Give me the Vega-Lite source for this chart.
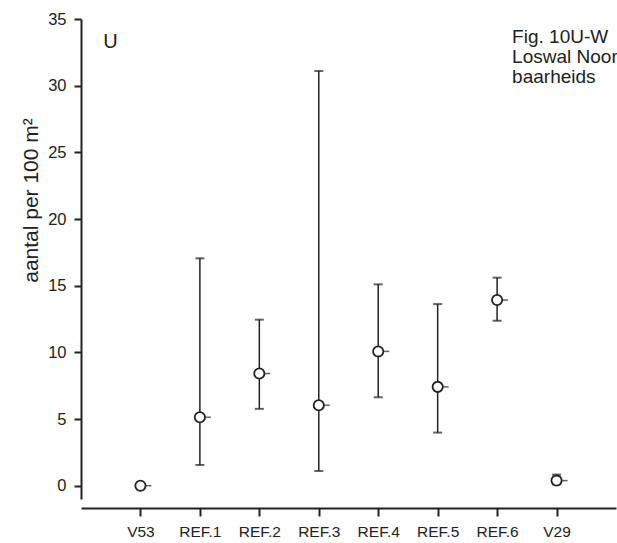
{
  "$schema": "https://vega.github.io/schema/vega-lite/v6.json",
  "autosize": "none",
  "padding": {"left": 81, "top": 19, "right": 1, "bottom": 44},
  "width": 535,
  "height": 480,
  "background": "white",
  "config": {
    "view": {"stroke": null},
    "font": "Liberation Sans"
  },
  "data": {
    "values": [
      {"site": "V53", "mean": 0, "lower": null, "upper": null},
      {"site": "REF.1", "mean": 5.13, "lower": 1.55, "upper": 17.05},
      {"site": "REF.2", "mean": 8.41, "lower": 5.76, "upper": 12.45},
      {"site": "REF.3", "mean": 6.03, "lower": 1.1, "upper": 31.1},
      {"site": "REF.4", "mean": 10.07, "lower": 6.63, "upper": 15.1},
      {"site": "REF.5", "mean": 7.41, "lower": 3.98, "upper": 13.62},
      {"site": "REF.6", "mean": 13.92, "lower": 12.37, "upper": 15.6},
      {"site": "V29", "mean": 0.38, "lower": 0.1, "upper": 0.83}
    ]
  },
  "encoding": {
    "x": {
      "field": "site",
      "type": "nominal",
      "scale": {"type": "point", "padding": 1, "domain": ["V53", "REF.1", "REF.2", "REF.3", "REF.4", "REF.5", "REF.6", "V29"]},
      "axis": {
        "title": null,
        "offset": 9,
        "labelAngle": 0,
        "labelFontSize": 15.5,
        "labelColor": "#222",
        "labelPadding": 8,
        "tickSize": 8,
        "tickWidth": 2,
        "tickColor": "#222",
        "domainColor": "#222",
        "domainWidth": 2,
        "grid": false
      }
    }
  },
  "layer": [
    {
      "mark": {"type": "rule", "color": "#222", "strokeWidth": 1.5},
      "encoding": {
        "y": {
          "field": "lower",
          "type": "quantitative",
          "title": "aantal per 100 m²",
          "scale": {"domain": [-1, 35], "nice": false, "zero": false},
          "axis": {
            "values": [0, 2.5, 5, 7.5, 10, 12.5, 15, 17.5, 20, 22.5, 25, 27.5, 30, 32.5, 35],
            "labelExpr": "datum.value % 5 === 0 ? datum.label : ''",
            "tickSize": {"condition": {"test": "datum.value % 5 !== 0", "value": 4}, "value": 7},
            "tickWidth": 2,
            "tickColor": "#222",
            "domainColor": "#222",
            "domainWidth": 2,
            "labelFontSize": 16.5,
            "labelColor": "#222",
            "labelPadding": 8,
            "grid": false,
            "titleFontSize": 21,
            "titleFontWeight": "normal",
            "titleColor": "#222",
            "titlePadding": 6,
            "titleY": 181
          }
        },
        "y2": {"field": "upper"}
      }
    },
    {
      "mark": {"type": "tick", "color": "#222", "size": 9, "thickness": 2},
      "encoding": {"y": {"field": "upper", "type": "quantitative", "title": "aantal per 100 m²"}}
    },
    {
      "mark": {"type": "tick", "color": "#222", "size": 9, "thickness": 2},
      "encoding": {"y": {"field": "lower", "type": "quantitative", "title": "aantal per 100 m²"}}
    },
    {
      "mark": {"type": "tick", "color": "#222", "size": 6, "thickness": 1.5, "xOffset": 8},
      "encoding": {"y": {"field": "mean", "type": "quantitative", "title": "aantal per 100 m²"}}
    },
    {
      "mark": {"type": "point", "shape": "circle", "filled": true, "fill": "white", "stroke": "#222", "strokeWidth": 1.8, "size": 105, "opacity": 1},
      "encoding": {"y": {"field": "mean", "type": "quantitative", "title": "aantal per 100 m²"}}
    },
    {
      "data": {
        "values": [
          {"site": "V53", "val": 33.3, "label": "U"}
        ]
      },
      "mark": {"type": "text", "fontSize": 20, "color": "#222", "align": "center", "baseline": "middle", "dx": -30},
      "encoding": {
        "y": {"field": "val", "type": "quantitative", "title": "aantal per 100 m²"},
        "text": {"field": "label"}
      }
    },
    {
      "data": {
        "values": [
          {"site": "REF.6", "val": 33.2, "label": "Fig. 10U-W"},
          {"site": "REF.6", "val": 31.7, "label": "Loswal Noord"},
          {"site": "REF.6", "val": 30.17, "label": "baarheids"}
        ]
      },
      "mark": {"type": "text", "fontSize": 19, "color": "#222", "align": "left", "baseline": "alphabetic", "dx": 15},
      "encoding": {
        "y": {"field": "val", "type": "quantitative", "title": "aantal per 100 m²"},
        "text": {"field": "label"}
      }
    }
  ]
}
